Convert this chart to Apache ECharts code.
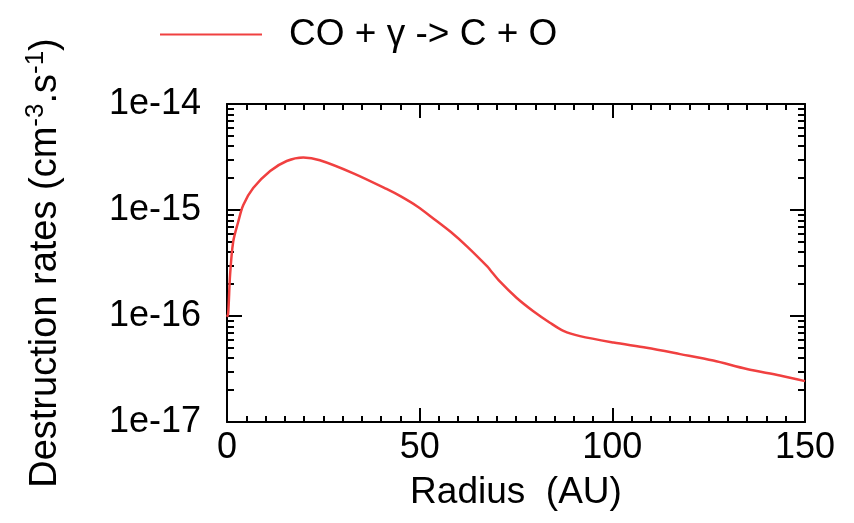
<!DOCTYPE html>
<html lang="en">
<head>
    <meta charset="UTF-8">
    <title>CO destruction rates</title>
    <style>
        html, body { margin: 0; padding: 0; background: #fff; }
    </style>
</head>
<body>
<div id="chart_rates" style="width:854px;height:523px;"></div>
<script src="https://cdn.jsdelivr.net/npm/echarts@6/dist/echarts.min.js"></script>
<script>
    // radius (AU) and destruction rate (cm^-3.s^-1)
    var radius = [0, 0.3, 0.8, 1.6, 2.9, 4.2, 6.8, 11.2, 15.5, 19.8, 24.1, 32.8, 41.4, 45.0, 49.4,
        53.7, 58.1, 62.4, 67.6, 68.3, 70.8, 75.2, 79.5, 83.8, 87.3, 91.6, 100.3, 108.9, 117.6,
        126.2, 134.9, 143.5, 150];
    var rates = [9.8e-17, 1.05e-16, 2.45e-16, 5.0e-16, 7.7e-16, 1.11e-15, 1.61e-15, 2.33e-15,
        2.90e-15, 3.13e-15, 2.95e-15, 2.22e-15, 1.58e-15, 1.35e-15, 1.08e-15, 8.24e-16, 6.19e-16,
        4.49e-16, 2.92e-16, 2.72e-16, 2.12e-16, 1.48e-16, 1.11e-16, 8.65e-17, 7.24e-17, 6.46e-17,
        5.62e-17, 5.01e-17, 4.37e-17, 3.80e-17, 3.16e-17, 2.75e-17, 2.43e-17];
    var seriesName = 'CO + \u03b3 -> C + O';

    var xTicks = [0, 50, 100, 150];
    var yTicks = [1e-17, 1e-16, 1e-15, 1e-14];
    var yTickLabels = ['1e-17', '1e-16', '1e-15', '1e-14'];

    var myChart = echarts.init(document.getElementById('chart_rates'));

    // 2..9 x 10^k between the decades
    var yMinor = [];
    for (var k = 0; k < yTicks.length - 1; k++) {
        for (var m = 2; m <= 9; m++) {
            yMinor.push(m * yTicks[k]);
        }
    }

    var points = [];
    for (var i = 0; i < radius.length; i++) {
        points.push([radius[i], rates[i]]);
    }

    var font = '"Liberation Sans", Arial, sans-serif';
    var lineStyle = {color: '#000', width: 2};

    function xAxisDef(pos, showLabel) {
        return {
            type: 'value',
            position: pos,
            min: xTicks[0],
            max: xTicks[xTicks.length - 1],
            interval: 50,
            name: showLabel ? 'Radius  (AU)' : '',
            nameLocation: 'middle',
            nameGap: 52,
            nameTextStyle: {fontFamily: font, fontSize: 37, color: '#000'},
            axisLine: {show: true, onZero: false, lineStyle: lineStyle},
            axisTick: {show: true, inside: true, length: 14, lineStyle: {color: '#000', width: 2}},
            minorTick: {show: true, splitNumber: 10, length: 6, lineStyle: {color: '#000', width: 2}},
            axisLabel: {show: showLabel, margin: 8, fontFamily: font, fontSize: 36, color: '#000'},
            splitLine: {show: false},
            minorSplitLine: {show: false}
        };
    }

    function yAxisDef(pos, minor, showLabel) {
        return {
            type: 'log',
            logBase: 10,
            position: pos,
            min: yTicks[0],
            max: yTicks[yTicks.length - 1],
            name: showLabel ? '{n|Destruction rates (cm}{s|-3}{n|.s}{s|-1}{n|)}' : '',
            nameLocation: 'middle',
            nameGap: 158,
            nameRotate: 90,
            nameTextStyle: {
                rich: {
                    n: {fontFamily: font, fontSize: 38, color: '#000'},
                    s: {fontFamily: font, fontSize: 26, color: '#000', verticalAlign: 'top', padding: [0, 0, 20, 0]}
                }
            },
            axisLine: {show: !minor, lineStyle: lineStyle},
            axisTick: {
                show: true,
                inside: true,
                length: minor ? 7 : 15,
                customValues: minor ? yMinor : yTicks,
                lineStyle: {color: '#000', width: 2}
            },
            axisLabel: {
                show: showLabel,
                customValues: yTicks,
                margin: 26,
                fontFamily: font,
                fontSize: 36,
                color: '#000',
                formatter: function (v) {
                    for (var j = 0; j < yTicks.length; j++) {
                        if (Math.abs(Math.log10(v) - Math.log10(yTicks[j])) < 1e-6) {
                            return yTickLabels[j];
                        }
                    }
                    return '';
                }
            },
            splitLine: {show: false}
        };
    }

    myChart.setOption({
        animation: false,
        backgroundColor: '#fff',
        grid: {left: 227, top: 104, right: 49, bottom: 101, containLabel: false},
        legend: {
            left: 155,
            top: 11,
            itemWidth: 102,
            itemHeight: 16,
            textStyle: {fontFamily: font, fontSize: 37, color: '#000', padding: [0, 0, 0, 22]},
            data: [{name: seriesName, icon: 'path://M0,7 L102,7 L102,9 L0,9 Z'}]
        },
        xAxis: [xAxisDef('bottom', true), xAxisDef('top', false)],
        yAxis: [
            yAxisDef('left', false, true),
            yAxisDef('left', true, false),
            yAxisDef('right', false, false),
            yAxisDef('right', true, false)
        ],
        series: [{
            name: seriesName,
            type: 'line',
            xAxisIndex: 0,
            yAxisIndex: 0,
            data: points,
            symbol: 'none',
            smooth: 0.3,
            lineStyle: {color: '#f04040', width: 2.5},
            itemStyle: {color: '#f04040'}
        }]
    });
</script>
</body>
</html>
